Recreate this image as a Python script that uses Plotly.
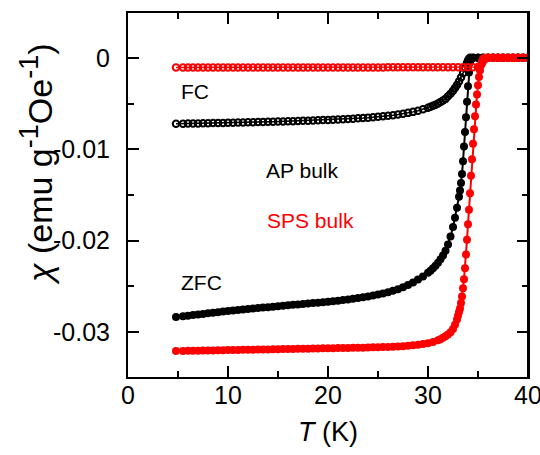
import plotly.graph_objects as go

# ---------------- data ----------------
# AP bulk, ZFC (black filled circles)
ap_zfc_T = [4.8, 5.5, 6.0, 6.5, 7.0, 7.5, 8.0, 8.5, 9.0, 9.5, 10.0, 10.5, 11.0, 11.5, 12.0, 12.5,
            13.0, 13.5, 14.0, 14.5, 15.0, 15.5, 16.0, 16.5, 17.0, 17.5, 18.0, 18.5, 19.0, 19.5,
            20.0, 20.5, 21.0, 21.5, 22.0, 22.5, 23.0, 23.5, 24.0, 24.5, 25.0, 25.5, 26.0, 26.5,
            27.0, 27.5, 28.0, 28.5, 29.0, 29.5, 30.0, 30.25, 30.5, 30.75, 31.0, 31.25, 31.5,
            31.75, 32.0, 32.25, 32.5, 32.7, 32.9, 33.1, 33.2, 33.3, 33.4, 33.5, 33.6, 33.7, 33.8,
            33.9, 34.0, 34.1, 34.2, 34.3, 34.5, 35.0, 35.5, 36.0, 36.5, 37.0, 37.5, 38.0, 38.5,
            39.0, 39.5, 40.0]
ap_zfc_chi = [-0.02835, -0.02826, -0.02820, -0.02813, -0.02806, -0.02800, -0.02794, -0.02787,
              -0.02781, -0.02775, -0.02769, -0.02763, -0.02757, -0.02751, -0.02746, -0.02741,
              -0.02736, -0.02731, -0.02726, -0.02721, -0.02716, -0.02711, -0.02706, -0.02701,
              -0.02697, -0.02692, -0.02687, -0.02682, -0.02677, -0.02672, -0.02667, -0.02661,
              -0.02655, -0.02649, -0.02642, -0.02635, -0.02627, -0.02619, -0.02610, -0.02600,
              -0.02589, -0.02577, -0.02563, -0.02548, -0.02530, -0.02508, -0.02484, -0.02456,
              -0.02425, -0.02390, -0.02350, -0.02327, -0.02302, -0.02273, -0.02240, -0.02203,
              -0.02162, -0.02110, -0.02040, -0.01955, -0.01850, -0.01750, -0.01640, -0.01520,
              -0.01450, -0.01370, -0.01270, -0.01130, -0.00970, -0.00810, -0.00650, -0.00480,
              -0.00310, -0.00160, -0.00050, -0.00005, 0.0, 0.0, 0.0, 0.0, 0.0, 0.0, 0.0, 0.0,
              0.0, 0.0, 0.0, 0.0]

# AP bulk, FC (black open circles)
ap_fc_T = [4.8, 5.5, 6.0, 6.5, 7.0, 7.5, 8.0, 8.5, 9.0, 9.5, 10.0, 10.5, 11.0, 11.5, 12.0, 12.5,
           13.0, 13.5, 14.0, 14.5, 15.0, 15.5, 16.0, 16.5, 17.0, 17.5, 18.0, 18.5, 19.0, 19.5,
           20.0, 20.5, 21.0, 21.5, 22.0, 22.5, 23.0, 23.5, 24.0, 24.5, 25.0, 25.5, 26.0, 26.5,
           27.0, 27.5, 28.0, 28.5, 29.0, 29.5, 30.0, 30.25, 30.5, 30.75, 31.0, 31.25, 31.5,
           31.75, 32.0, 32.25, 32.5, 32.7, 32.9, 33.1, 33.3, 33.5, 33.7, 33.9, 34.0, 34.1, 34.2,
           34.5, 35.0, 35.5, 36.0, 36.5, 37.0, 37.5, 38.0, 38.5, 39.0, 39.5, 40.0]
ap_fc_chi = [-0.00721, -0.00720, -0.00719, -0.00718, -0.00717, -0.00716, -0.00715, -0.00714,
             -0.00713, -0.00712, -0.00710, -0.00709, -0.00708, -0.00707, -0.00705, -0.00704,
             -0.00703, -0.00702, -0.00700, -0.00699, -0.00697, -0.00696, -0.00694, -0.00693,
             -0.00691, -0.00689, -0.00687, -0.00685, -0.00683, -0.00681, -0.00679, -0.00676,
             -0.00674, -0.00671, -0.00668, -0.00665, -0.00662, -0.00658, -0.00654, -0.00650,
             -0.00645, -0.00640, -0.00634, -0.00628, -0.00620, -0.00612, -0.00602, -0.00591,
             -0.00578, -0.00563, -0.00546, -0.00536, -0.00525, -0.00513, -0.00499, -0.00484,
             -0.00467, -0.00449, -0.00420, -0.00392, -0.00360, -0.00330, -0.00296, -0.00258,
             -0.00215, -0.00168, -0.00115, -0.00058, -0.00030, -0.00010, 0.0, 0.0, 0.0, 0.0,
             0.0, 0.0, 0.0, 0.0, 0.0, 0.0, 0.0, 0.0, 0.0]

# SPS bulk, ZFC (red filled circles)
sps_zfc_T = [4.8, 5.5, 6.0, 6.5, 7.0, 7.5, 8.0, 8.5, 9.0, 9.5, 10.0, 10.5, 11.0, 11.5, 12.0, 12.5,
             13.0, 13.5, 14.0, 14.5, 15.0, 15.5, 16.0, 16.5, 17.0, 17.5, 18.0, 18.5, 19.0, 19.5,
             20.0, 20.5, 21.0, 21.5, 22.0, 22.5, 23.0, 23.5, 24.0, 24.5, 25.0, 25.5, 26.0, 26.5,
             27.0, 27.5, 28.0, 28.5, 29.0, 29.5, 30.0, 30.5, 31.0, 31.25, 31.5, 31.75, 32.0,
             32.25, 32.5, 32.7, 32.9, 33.0, 33.1, 33.2, 33.3, 33.4, 33.5, 33.6, 33.7, 33.8, 33.9,
             34.0, 34.1, 34.2, 34.3, 34.4, 34.5, 34.6, 34.7, 34.8, 34.9, 35.0, 35.1, 35.2, 35.3,
             35.4, 35.5, 35.7, 36.0, 36.5, 37.0, 37.5, 38.0, 38.5, 39.0, 39.5, 40.0]
sps_zfc_chi = [-0.03206, -0.03205, -0.03204, -0.03203, -0.03202, -0.03201, -0.03200, -0.03199,
               -0.03198, -0.03197, -0.03196, -0.03195, -0.03194, -0.03193, -0.03192, -0.03191,
               -0.03190, -0.03189, -0.03188, -0.03187, -0.03186, -0.03185, -0.03184, -0.03183,
               -0.03182, -0.03181, -0.03180, -0.03179, -0.03178, -0.03177, -0.03176, -0.03175,
               -0.03174, -0.03173, -0.03172, -0.03171, -0.03170, -0.03169, -0.03168, -0.03166,
               -0.03165, -0.03163, -0.03161, -0.03159, -0.03156, -0.03153, -0.03149, -0.03144,
               -0.03138, -0.03130, -0.03120, -0.03106, -0.03088, -0.03076, -0.03062, -0.03045,
               -0.03025, -0.03000, -0.02965, -0.02920, -0.02860, -0.02820, -0.02780, -0.02740,
               -0.02680, -0.02610, -0.02520, -0.02420, -0.02300, -0.02150, -0.01990, -0.01820,
               -0.01660, -0.01480, -0.01290, -0.01110, -0.00940, -0.00780, -0.00640, -0.00510,
               -0.00400, -0.00300, -0.00210, -0.00140, -0.00080, -0.00040, -0.00010, 0.0, 0.0,
               0.0, 0.0, 0.0, 0.0, 0.0, 0.0, 0.0, 0.0]

# SPS bulk, FC (red open circles)
sps_fc_T = [4.8, 5.5, 6.0, 6.5, 7.0, 7.5, 8.0, 8.5, 9.0, 9.5, 10.0, 10.5, 11.0, 11.5, 12.0, 12.5,
            13.0, 13.5, 14.0, 14.5, 15.0, 15.5, 16.0, 16.5, 17.0, 17.5, 18.0, 18.5, 19.0, 19.5,
            20.0, 20.5, 21.0, 21.5, 22.0, 22.5, 23.0, 23.5, 24.0, 24.5, 25.0, 25.5, 26.0, 26.5,
            27.0, 27.5, 28.0, 28.5, 29.0, 29.5, 30.0, 30.5, 31.0, 31.5, 32.0, 32.5, 33.0, 33.5,
            34.0, 34.5, 35.0, 35.2, 35.4, 35.6, 35.8, 36.0, 36.5, 37.0, 37.5, 38.0, 38.5, 39.0,
            39.5, 40.0]
sps_fc_chi = [-0.00106, -0.00106, -0.00106, -0.00106, -0.00106, -0.00106, -0.00106, -0.00106,
              -0.00106, -0.00106, -0.00105, -0.00105, -0.00105, -0.00105, -0.00105, -0.00105,
              -0.00105, -0.00105, -0.00105, -0.00105, -0.00105, -0.00105, -0.00105, -0.00105,
              -0.00105, -0.00105, -0.00105, -0.00105, -0.00105, -0.00105, -0.00105, -0.00105,
              -0.00105, -0.00105, -0.00105, -0.00105, -0.00105, -0.00105, -0.00105, -0.00105,
              -0.00105, -0.00105, -0.00104, -0.00104, -0.00104, -0.00104, -0.00104, -0.00104,
              -0.00104, -0.00104, -0.00104, -0.00104, -0.00104, -0.00104, -0.00104, -0.00104,
              -0.00104, -0.00104, -0.00104, -0.00103, -0.00100, -0.00090, -0.00060, -0.00025,
              -0.00005, 0.0, 0.0, 0.0, 0.0, 0.0, 0.0, 0.0, 0.0, 0.0]

x_ticks = [0, 10, 20, 30, 40]
y_ticks = [0, -0.01, -0.02, -0.03]
y_tick_text = ["0", "-0.01", "-0.02", "-0.03"]
y_minor_ticks = [-0.005, -0.015, -0.025]
y_range = [-0.0349, 0.0049]

labels = [("FC", 6.7, -0.0037, "black"),
          ("AP bulk", 17.4, -0.0123, "black"),
          ("SPS bulk", 18.2, -0.0178, "red"),
          ("ZFC", 7.3, -0.0246, "black")]

FONT = "Liberation Sans, Arial, sans-serif"
BLACK = "#000000"
RED = "#FF0000"

fig = go.Figure()


def filled(T, chi, color):
    return go.Scatter(x=T, y=chi, mode="lines+markers",
                      line=dict(color=color, width=2),
                      marker=dict(symbol="circle", size=8, color=color),
                      showlegend=False, hoverinfo="skip")


def opened(T, chi, color):
    return go.Scatter(x=T, y=chi, mode="lines+markers",
                      line=dict(color=color, width=1.5),
                      marker=dict(symbol="circle-open", size=6.5, color=color,
                                  line=dict(width=2, color=color)),
                      showlegend=False, hoverinfo="skip")


fig.add_trace(filled(ap_zfc_T, ap_zfc_chi, BLACK))
fig.add_trace(opened(ap_fc_T, ap_fc_chi, BLACK))
fig.add_trace(filled(sps_zfc_T, sps_zfc_chi, RED))
fig.add_trace(opened(sps_fc_T, sps_fc_chi, RED))

for text, tx, ty, col in labels:
    fig.add_annotation(x=tx, y=ty, text=text, showarrow=False,
                       font=dict(family=FONT, size=21, color=col),
                       xanchor="center", yanchor="middle")

# y-axis title placed as a rotated annotation (offset upward as in the reference)
fig.add_annotation(xref="paper", yref="paper", x=-0.23, y=0.585,
                   text="<i>χ</i> (emu g<sup><span style='font-size:27px'>-1</span></sup>"
                        "Oe<sup><span style='font-size:27px'>-1</span></sup>)",
                   textangle=-90, showarrow=False, xanchor="center", yanchor="middle",
                   font=dict(family=FONT, size=34, color=BLACK))

axis_common = dict(showline=True, linecolor=BLACK, linewidth=2,
                   ticks="inside", ticklen=11, tickwidth=1.5, tickcolor=BLACK,
                   showgrid=False, zeroline=False, automargin=False,
                   ticklabeloverflow="allow",
                   tickfont=dict(family=FONT, size=25, color=BLACK))

fig.update_xaxes(range=[0, 40], tickvals=x_ticks, ticklabelstandoff=-5, mirror="ticks",
                 minor=dict(ticks="inside", ticklen=6, tickwidth=1.5, tickcolor=BLACK, dtick=5,
                            showgrid=False),
                 title=dict(text="<i>T</i> (K)", font=dict(family=FONT, size=27, color=BLACK),
                            standoff=14),
                 **axis_common)
fig.update_yaxes(range=y_range, tickvals=y_ticks, ticktext=y_tick_text,
                 ticklabelstandoff=11, mirror="ticks",
                 minor=dict(ticks="inside", ticklen=6, tickwidth=1.5, tickcolor=BLACK,
                            tickvals=y_minor_ticks, showgrid=False),
                 **axis_common)

# right-hand frame side with inward ticks (no labels)
fig.update_layout(yaxis2=dict(overlaying="y", side="right", anchor="x", range=y_range,
                              tickvals=y_ticks, showticklabels=False, showline=True,
                              linecolor=BLACK, linewidth=2, ticks="inside", ticklen=11,
                              tickwidth=1.5, tickcolor=BLACK, showgrid=False, zeroline=False,
                              minor=dict(ticks="inside", ticklen=6, tickwidth=1.5,
                                         tickcolor=BLACK, tickvals=y_minor_ticks,
                                         showgrid=False)))

fig.add_shape(type="line", xref="x domain", yref="y domain", x0=1, x1=1, y0=0, y1=1,
              line=dict(color=BLACK, width=2), layer="above")

fig.update_layout(width=540, height=455, margin=dict(l=128, r=12, t=13, b=78),
                  paper_bgcolor="white", plot_bgcolor="white")

fig.write_html("out.html")
